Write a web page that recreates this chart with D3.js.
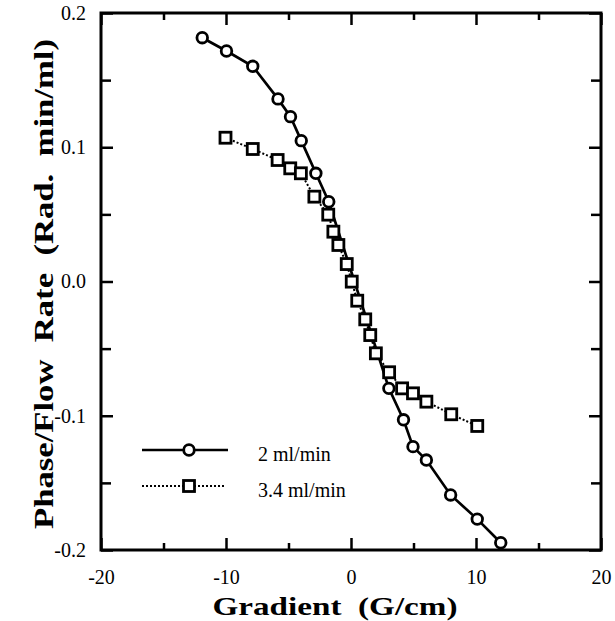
<!DOCTYPE html>
<html>
<head>
<meta charset="utf-8">
<script src="https://cdn.jsdelivr.net/npm/d3@7"></script>
<style>
  html, body { margin: 0; padding: 0; background: #fff; }
  svg { display: block; }
  text { font-family: "Liberation Serif", "Times New Roman", serif; fill: #000; }
</style>
</head>
<body>
<svg id="chart" width="615" height="621"></svg>
<script>
// ---- data ----
const flow2X = [-11.9, -9.96, -7.86, -5.84, -4.84, -3.98, -2.81, -1.78, 3.03, 4.2, 4.96, 6.03, 7.97, 10.1, 11.98];
const flow2Y = [0.1816, 0.1717, 0.1603, 0.136, 0.1228, 0.1049, 0.0806, 0.0594, -0.0796, -0.103, -0.123, -0.133, -0.159, -0.177, -0.1946];
const flow34X = [-10.04, -7.86, -5.87, -4.86, -4.01, -2.93, -1.82, -1.41, -1.01, -0.34, 0.06, 0.5, 1.14, 1.54, 1.99, 3.05, 4.09, 4.96, 6.03, 8.02, 10.1];
const flow34Y = [0.1071, 0.0987, 0.0905, 0.0843, 0.0806, 0.0632, 0.0498, 0.0371, 0.0272, 0.013, -0.0001, -0.0143, -0.0282, -0.0399, -0.0535, -0.0676, -0.0796, -0.0833, -0.0895, -0.0989, -0.1076];
const seriesNames = ["2 ml/min", "3.4 ml/min"];
const xMajorTicks = [-20, -10, 0, 10, 20];
const xMinorTicks = [-15, -5, 5, 15];
const xTickLabels = ["-20", "-10", "0", "10", "20"];
const yMajorTicks = [0.2, 0.1, 0.0, -0.1, -0.2];
const yMinorTicks = [0.15, 0.05, -0.05, -0.15];
const yTickLabels = ["0.2", "0.1", "0.0", "-0.1", "-0.2"];
const xTitle = "Gradient\u00a0\u00a0(G/cm)";
const yTitle = "Phase/Flow\u00a0\u00a0Rate\u00a0\u00a0(Rad.\u00a0\u00a0min/ml)";

// ---- layout ----
const L = 101, R = 601, T = 13, B = 550;
const svg = d3.select("#chart");
const x = d3.scaleLinear().domain([-20, 20]).range([L, R]);
const y = d3.scaleLinear().domain([-0.2, 0.2]).range([B, T]);

// frame
svg.append("rect").attr("x", L).attr("y", T).attr("width", R - L).attr("height", B - T)
  .attr("fill", "none").attr("stroke", "#000").attr("stroke-width", 3);

function styleAxis(g) {
  g.select(".domain").remove();
  g.selectAll(".tick line").attr("stroke", "#000").attr("stroke-width", 2.5);
}
// bottom
svg.append("g").attr("transform", `translate(0,${B})`)
  .call(d3.axisBottom(x).tickValues(xMajorTicks).tickSize(-12).tickPadding(20)
    .tickFormat((d, i) => xTickLabels[i]))
  .call(styleAxis)
  .call(g => g.selectAll("text").attr("font-size", 20).attr("font-family", "Liberation Serif").attr("fill", "#000"));
svg.append("g").attr("transform", `translate(0,${B})`)
  .call(d3.axisBottom(x).tickValues(xMinorTicks).tickSize(-7).tickFormat(""))
  .call(styleAxis);
// top
svg.append("g").attr("transform", `translate(0,${T})`)
  .call(d3.axisTop(x).tickValues(xMajorTicks).tickSize(-12).tickFormat(""))
  .call(styleAxis);
svg.append("g").attr("transform", `translate(0,${T})`)
  .call(d3.axisTop(x).tickValues(xMinorTicks).tickSize(-7).tickFormat(""))
  .call(styleAxis);
// left
svg.append("g").attr("transform", `translate(${L},0)`)
  .call(d3.axisLeft(y).tickValues(yMajorTicks).tickSize(-12).tickPadding(15)
    .tickFormat((d, i) => yTickLabels[i]))
  .call(styleAxis)
  .call(g => g.selectAll("text").attr("font-size", 20).attr("font-family", "Liberation Serif").attr("fill", "#000"));
svg.append("g").attr("transform", `translate(${L},0)`)
  .call(d3.axisLeft(y).tickValues(yMinorTicks).tickSize(-10).tickFormat(""))
  .call(styleAxis);
// right
svg.append("g").attr("transform", `translate(${R},0)`)
  .call(d3.axisRight(y).tickValues(yMajorTicks).tickSize(-12).tickFormat(""))
  .call(styleAxis);
svg.append("g").attr("transform", `translate(${R},0)`)
  .call(d3.axisRight(y).tickValues(yMinorTicks).tickSize(-10).tickFormat(""))
  .call(styleAxis);

// ---- series ----
const s2 = flow2X.map((v, i) => [v, flow2Y[i]]);
const s34 = flow34X.map((v, i) => [v, flow34Y[i]]);
const line = d3.line().x(d => x(d[0])).y(d => y(d[1]));

svg.append("path").datum(s34).attr("d", line).attr("fill", "none")
  .attr("stroke", "#000").attr("stroke-width", 2).attr("stroke-dasharray", "2,2");
svg.append("path").datum(s2).attr("d", line).attr("fill", "none")
  .attr("stroke", "#000").attr("stroke-width", 2.7);

const sq = 11;
svg.append("g").selectAll("rect").data(s34).join("rect")
  .attr("x", d => x(d[0]) - sq / 2).attr("y", d => y(d[1]) - sq / 2)
  .attr("width", sq).attr("height", sq)
  .attr("fill", "#fff").attr("stroke", "#000").attr("stroke-width", 2.8);
svg.append("g").selectAll("circle").data(s2).join("circle")
  .attr("cx", d => x(d[0])).attr("cy", d => y(d[1])).attr("r", 5.3)
  .attr("fill", "#fff").attr("stroke", "#000").attr("stroke-width", 2.8);

// ---- legend ----
const lg = svg.append("g");
const lx0 = 142, lx1 = 228, lxm = 189;
const ly = [450, 486];
lg.append("line").attr("x1", lx0).attr("x2", lx1).attr("y1", ly[0]).attr("y2", ly[0])
  .attr("stroke", "#000").attr("stroke-width", 2.7);
lg.append("circle").attr("cx", lxm).attr("cy", ly[0]).attr("r", 5.3)
  .attr("fill", "#fff").attr("stroke", "#000").attr("stroke-width", 2.8);
lg.append("line").attr("x1", lx0).attr("x2", lx1 - 3).attr("y1", ly[1]).attr("y2", ly[1])
  .attr("stroke", "#000").attr("stroke-width", 2).attr("stroke-dasharray", "2,2");
lg.append("rect").attr("x", lxm - sq / 2).attr("y", ly[1] - sq / 2).attr("width", sq).attr("height", sq)
  .attr("fill", "#fff").attr("stroke", "#000").attr("stroke-width", 2.8);
seriesNames.forEach((n, i) => {
  lg.append("text").attr("x", 258).attr("y", ly[i] + 6).attr("dominant-baseline", "middle")
    .attr("font-size", 20).text(n);
});

// ---- titles ----
svg.append("text").attr("x", 335).attr("y", 615).attr("text-anchor", "middle")
  .attr("font-size", 26).attr("font-weight", "bold")
  .attr("textLength", 245).attr("lengthAdjust", "spacingAndGlyphs").text(xTitle);
svg.append("text").attr("transform", "translate(53,284) rotate(-90)").attr("text-anchor", "middle")
  .attr("font-size", 28).attr("font-weight", "bold")
  .attr("textLength", 490).attr("lengthAdjust", "spacingAndGlyphs").text(yTitle);
</script>
</body>
</html>
